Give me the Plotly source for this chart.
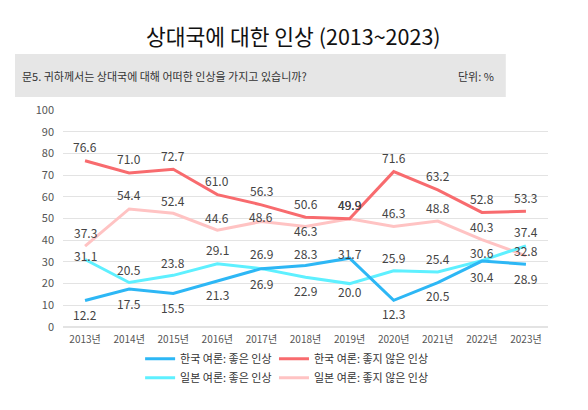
import plotly.graph_objects as go

years = ["2013년", "2014년", "2015년", "2016년", "2017년", "2018년",
         "2019년", "2020년", "2021년", "2022년", "2023년"]
kr_good = [12.2, 17.5, 15.5, 21.3, 26.9, 28.3, 31.7, 12.3, 20.5, 30.4, 28.9]
kr_bad = [76.6, 71.0, 72.7, 61.0, 56.3, 50.6, 49.9, 71.6, 63.2, 52.8, 53.3]
jp_good = [31.1, 20.5, 23.8, 29.1, 26.9, 22.9, 20.0, 25.9, 25.4, 30.6, 37.4]
jp_bad = [37.3, 54.4, 52.4, 44.6, 48.6, 46.3, 49.9, 46.3, 48.8, 40.3, 32.8]

names = ["한국 여론: 좋은 인상", "한국 여론: 좋지 않은 인상",
         "일본 여론: 좋은 인상", "일본 여론: 좋지 않은 인상"]
colors = ["#2DB7F5", "#F86B6E", "#5EF0FF", "#FFC3C3"]

# label vertical offsets in px (style only; positive = above the point)
label_shift = [
    [-14, -14, -14, -14, -15, 12, 5, -13, -13, -15, -14],
    [14, 14, 14, 14, 14, 14, 14, 14, 14, 14, 14],
    [4, 13, 13, 14, 15, -13, -8, 13, 13, 8, 14],
    [14, 14, 13, 13, 5, -4, 14, 14, 14, 13, 5],
]
series = [kr_good, kr_bad, jp_good, jp_bad]
legends = ["legend", "legend2", "legend", "legend2"]
ranks = [1, 1, 2, 2]

FONT = "Noto Sans CJK KR"
fig = go.Figure()
# draw order: pink, cyan, red, blue
for i in [3, 2, 1, 0]:
    fig.add_trace(go.Scatter(
        x=years, y=series[i], name=names[i], mode="lines",
        line=dict(color=colors[i], width=3),
        legend=legends[i], legendrank=ranks[i],
    ))

annotations = []
for i in range(4):
    for yr, v, s in zip(years, series[i], label_shift[i]):
        annotations.append(dict(
            x=yr, y=v, xref="x", yref="y", text=f"{v:.1f}", showarrow=False,
            xanchor="center", yanchor="middle", yshift=s,
            font=dict(size=12, color="#444444", family=FONT)))

annotations += [
    dict(text="상대국에 대한 인상 (2013~2023)", xref="paper", yref="paper",
         x=0.476, y=1.345, xanchor="center", yanchor="middle", showarrow=False,
         font=dict(size=21.5, color="#111111", family=FONT)),
    dict(text="문5. 귀하께서는 상대국에 대해 어떠한 인상을 가지고 있습니까?",
         xref="paper", yref="paper", x=-0.0887, y=1.157, xanchor="left",
         yanchor="middle", showarrow=False,
         font=dict(size=11, color="#333333", family=FONT)),
    dict(text="단위: %", xref="paper", yref="paper", x=0.893, y=1.157,
         xanchor="right", yanchor="middle", showarrow=False,
         font=dict(size=11, color="#333333", family=FONT)),
]

leg_common = dict(orientation="v", yanchor="top", xanchor="left",
                  itemwidth=30, font=dict(size=11, color="#333333"),
                  bgcolor="rgba(0,0,0,0)", traceorder="normal",
                  tracegroupgap=0)

fig.update_layout(
    width=580, height=402,
    margin=dict(l=55, r=40, t=102, b=83),
    paper_bgcolor="white", plot_bgcolor="white",
    font=dict(family=FONT, color="#444444"),
    showlegend=True,
    legend=dict(x=0.159, y=-0.079, **leg_common),
    legend2=dict(x=0.435, y=-0.079, **leg_common),
    xaxis=dict(type="category", range=[-0.5, 10.5], showgrid=False,
               showline=False, ticks="", ticklabelstandoff=5,
               tickfont=dict(size=10, color="#555555")),
    yaxis=dict(range=[0, 100], dtick=10, showgrid=True, gridcolor="#E3E3E3",
               zeroline=True, zerolinecolor="#E3E3E3", ticks="",
               tickfont=dict(size=11, color="#555555"), ticklabelstandoff=8),
    shapes=[dict(type="rect", xref="paper", yref="paper",
                 x0=-0.099, x1=0.913, y0=1.06, y1=1.258,
                 fillcolor="#E6E6E6", line=dict(width=0), layer="below")],
    annotations=annotations,
)

fig.write_html("out.html")
